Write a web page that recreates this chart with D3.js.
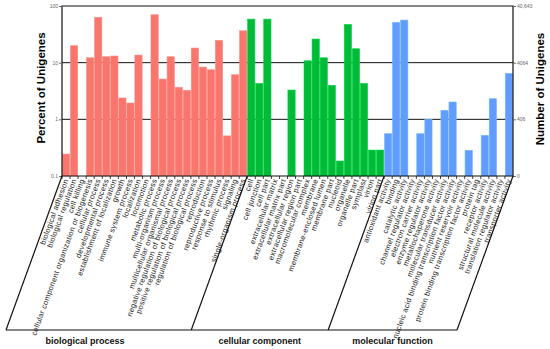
<!DOCTYPE html>
<html>
<head>
<meta charset="utf-8">
<script src="https://cdn.jsdelivr.net/npm/d3@7"></script>
<style>
body { margin: 0; background: #fff; }
svg { font-family: "Liberation Sans", Arial, sans-serif; }
</style>
</head>
<body>
<svg width="550" height="349"></svg>
<script>
const bpTerms = ["biological adhesion", "biological regulation", "cell killing",
    "cellular component organization or biogenesis", "cellular process", "developmental process",
    "establishment of localization", "growth", "immune system process", "localization", "locomotion",
    "metabolic process", "multi-organism process", "multicellular organismal process",
    "negative regulation of biological process", "positive regulation of biological process",
    "regulation of biological process", "reproduction", "reproductive process", "response to stimulus",
    "rhythmic process", "signaling", "single-organism process"]
const bpPercent = [0.244, 19.9, 0, 12.2, 63, 12.7, 13.1, 2.38, 1.94, 13.6, 0, 70, 5.14, 12.7,
    3.67, 3.24, 18.1, 8.36, 7.5, 24.7, 0.51, 6.12, 36.5]

const ccTerms = ["cell", "cell junction", "cell part", "extracellular matrix", "extracellular matrix part",
    "extracellular region", "extracellular region part", "macromolecular complex", "membrane",
    "membrane-enclosed lumen", "membrane part", "nucleoid", "organelle", "organelle part",
    "symplast", "virion", "virion part"]
const ccPercent = [58.7, 4.31, 58.7, 0, 0, 3.29, 0, 10.8, 26.1, 12.2, 3.98, 0.184, 47.3, 17.6, 4.31, 0.287, 0.287]

const mfTerms = ["antioxidant activity", "binding", "catalytic activity", "channel regulator activity",
    "electron carrier activity", "enzyme regulator activity", "metallochaperone activity",
    "molecular transducer activity", "nucleic acid binding transcription factor activity",
    "nutrient reservoir activity", "protein binding transcription factor activity", "protein tag",
    "receptor activity", "structural molecule activity", "translation regulator activity",
    "transporter activity"]
const mfPercent = [0.557, 51.3, 56.4, 0, 0.557, 1.0, 0, 1.44, 2.02, 0, 0.284, 0, 0.52, 2.31, 0, 6.47]

const groupNames = ["biological process", "cellular component", "molecular function"]
const groupColors = ["#F8766D", "#00BA38", "#619CFF"]
const percentTicks = [100, 10, 1, 0.1]
const numberTickLabels = ["40,643", "4064", "406", "0"]

function drawGoChart(){
    const svg = d3.select("svg")
    const left = 62, right = 513, top = 6, bottom = 176
    const baseY = 330, slant = 56

    const rows = []
    ;[bpTerms, ccTerms, mfTerms].forEach((terms, g) => {
        const vals = [bpPercent, ccPercent, mfPercent][g]
        terms.forEach((t, i) => rows.push({term: t, value: vals[i], group: g}))
    })

    const x = d3.scaleBand().domain(rows.map(d => d.term)).range([left, right]).paddingInner(0.1).paddingOuter(0.05)
    const y = d3.scaleLog().domain([0.1, 100]).range([bottom, top])

    // grid lines behind bars
    svg.append("g")
        .selectAll("line")
        .data([10, 1])
        .enter()
        .append("line")
        .attr("x1", left).attr("x2", right)
        .attr("y1", d => y(d)).attr("y2", d => y(d))
        .attr("stroke", "#111").attr("stroke-width", 1)

    svg.append("g")
        .selectAll("rect")
        .data(rows.filter(d => d.value > 0))
        .enter()
        .append("rect")
        .attr("x", d => x(d.term))
        .attr("width", x.bandwidth())
        .attr("y", d => y(d.value))
        .attr("height", d => bottom - y(d.value))
        .attr("fill", d => groupColors[d.group])
        .attr("stroke", d => d3.color(groupColors[d.group]).brighter(0.4))
        .attr("stroke-width", 0.6)

    // frame
    svg.append("path")
        .attr("d", `M${left},${bottom}V${top}H${right}V${bottom}`)
        .attr("fill", "none").attr("stroke", "#111").attr("stroke-width", 1.2)
    svg.append("line")
        .attr("x1", left).attr("x2", right).attr("y1", bottom).attr("y2", bottom)
        .attr("stroke", "#111").attr("stroke-width", 1.2)

    // left axis
    const leftAxis = svg.append("g")
        .attr("transform", `translate(${left},0)`)
        .call(d3.axisLeft(y).tickValues(percentTicks).tickFormat(d3.format("~g")).tickSize(3).tickPadding(1))
    leftAxis.select(".domain").remove()
    leftAxis.selectAll("line").attr("stroke", "#666")
    leftAxis.selectAll("text").attr("font-size", 5).attr("fill", "#666").attr("font-family", null)

    // right axis
    const rightAxis = svg.append("g")
        .attr("transform", `translate(${right},0)`)
        .call(d3.axisRight(y).tickValues(percentTicks).tickFormat((d, i) => numberTickLabels[i]).tickSize(3).tickPadding(1))
    rightAxis.select(".domain").remove()
    rightAxis.selectAll("line").attr("stroke", "#666")
    rightAxis.selectAll("text").attr("font-size", 5).attr("fill", "#666").attr("font-family", null)

    // small ticks on the category axis
    const step = x.step()
    svg.append("g")
        .selectAll("line")
        .data(rows)
        .enter()
        .append("line")
        .attr("x1", d => x(d.term) - step * 0.05)
        .attr("x2", d => x(d.term) - step * 0.05)
        .attr("y1", bottom).attr("y2", bottom + 3)
        .attr("stroke", "#111").attr("stroke-width", 0.8)

    // category labels
    svg.append("g")
        .selectAll("text")
        .data(rows)
        .enter()
        .append("text")
        .attr("transform", d => `translate(${x(d.term) + x.bandwidth() / 2 + 2.5},${bottom + 4}) rotate(-70)`)
        .attr("text-anchor", "end")
        .attr("font-size", 7.5)
        .attr("letter-spacing", 0.3)
        .attr("fill", "#222")
        .text(d => d.term)

    // group brackets
    const bounds = [0, bpTerms.length, bpTerms.length + ccTerms.length, rows.length]
        .map(i => i < rows.length ? x(rows[i].term) - step * 0.05 : right)
    bounds[0] = left
    svg.append("g")
        .selectAll("line")
        .data(bounds)
        .enter()
        .append("line")
        .attr("x1", d => d).attr("y1", bottom)
        .attr("x2", d => d - slant).attr("y2", baseY)
        .attr("stroke", "#111").attr("stroke-width", 1.2)
    svg.append("line")
        .attr("x1", left - slant).attr("x2", right - slant)
        .attr("y1", baseY).attr("y2", baseY)
        .attr("stroke", "#111").attr("stroke-width", 1.2)

    const labelX = [85, (bounds[1] + bounds[2]) / 2 - slant, (bounds[2] + bounds[3]) / 2 - slant]
    svg.append("g")
        .selectAll("text")
        .data(groupNames)
        .enter()
        .append("text")
        .attr("x", (d, i) => labelX[i])
        .attr("y", baseY + 14)
        .attr("text-anchor", "middle")
        .attr("font-size", 9)
        .attr("font-weight", "bold")
        .attr("fill", "#111")
        .text(d => d)

    // axis titles
    svg.append("text")
        .attr("transform", "translate(45,88) rotate(-90)")
        .attr("text-anchor", "middle")
        .attr("font-size", 11.5).attr("font-weight", "bold")
        .text("Percent of Unigenes")
    svg.append("text")
        .attr("transform", "translate(544,89) rotate(-90)")
        .attr("text-anchor", "middle")
        .attr("font-size", 11.5).attr("font-weight", "bold")
        .text("Number of Unigenes")
}

drawGoChart()
</script>
</body>
</html>
